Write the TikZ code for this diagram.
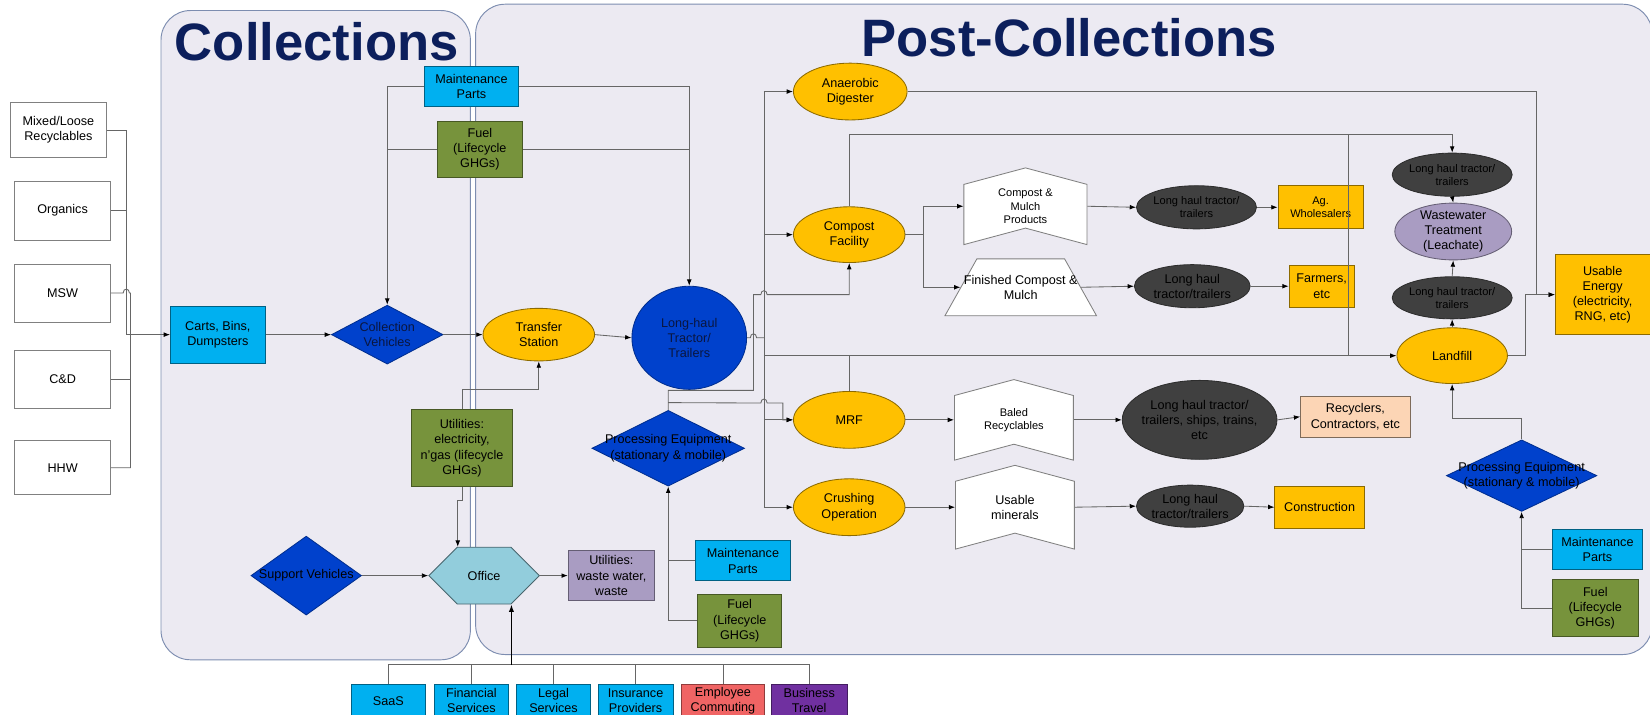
\documentclass[tikz,border=0pt]{standalone}
\usepackage{fontspec}
\setmainfont{Liberation Sans}
\usetikzlibrary{arrows.meta,shapes.geometric,shapes.symbols}

\definecolor{panelfill}{HTML}{ECEAF2}
\definecolor{panelline}{HTML}{7D8DB0}
\definecolor{titleblue}{HTML}{0C1F5C}
\definecolor{cyanfill}{HTML}{00B0F0}
\definecolor{greenfill}{HTML}{77933C}
\definecolor{goldfill}{HTML}{FFC000}
\definecolor{bluefill}{HTML}{0041CC}
\definecolor{navytxt}{HTML}{0A1640}
\definecolor{darkfill}{HTML}{404040}
\definecolor{officefill}{HTML}{92CDDC}
\definecolor{lilacfill}{HTML}{A99CC2}
\definecolor{peachfill}{HTML}{FCD5B5}
\definecolor{redfill}{HTML}{F06464}
\definecolor{purplefill}{HTML}{7030A0}

\newcommand{\normtxt}{\fontsize{12}{14.5}\selectfont}
\newcommand{\smalltxt}{\fontsize{10.5}{12.5}\selectfont}
\newcommand{\titletxt}{\fontsize{50}{56}\selectfont\bfseries}
% small jump of a line over a crossing one
\newcommand{\linehop}[2]{-- ({#1-3},#2) .. controls ({#1-3},{#2-5}) and ({#1+3},{#2-5}) .. ({#1+3},#2)}

\tikzset{
  base/.style={draw=black!55, line width=0.8pt, align=center, font=\normtxt, text=black, inner sep=1pt},
  sz/.style 2 args={minimum width=#1pt, minimum height=#2pt},
  srcbox/.style={base, rectangle, fill=white, draw=black!50},
  cyanbox/.style={base, rectangle, fill=cyanfill, draw=cyanfill!55!black},
  greenbox/.style={base, rectangle, fill=greenfill, draw=greenfill!60!black},
  goldbox/.style={base, rectangle, fill=goldfill, draw=goldfill!55!black},
  goldoval/.style={base, ellipse, fill=goldfill, draw=goldfill!55!black},
  darkoval/.style={base, ellipse, fill=darkfill, draw=darkfill!70!black},
  bluediamond/.style={base, diamond, fill=bluefill, draw=bluefill!70!black},
  tagbox/.style={base, signal, signal to=north, signal from=south, signal pointer angle=150, fill=white, draw=black!50},
  lbl/.style={align=center, font=\normtxt, text=black, inner sep=0pt},
  inlbl/.style={label={[lbl]center:#1}},
  inlbls/.style={label={[lbl,font=\smalltxt]center:#1}},
  inlblb/.style={label={[lbl,text=navytxt]center:#1}},
  conn/.style={draw=black!60, line width=0.8pt},
  conarr/.style={conn, -{Latex[length=6pt,width=4.5pt,color=black]}},
  panel/.style={fill=panelfill, draw=panelline, line width=0.9pt, rounded corners=28pt},
  paneltitle/.style={font=\titletxt, text=titleblue, inner sep=0pt}
}

\begin{document}
\begin{tikzpicture}[x=1pt,y=-1pt]
\useasboundingbox (0,0) rectangle (1568,679);

% the two stages
\filldraw[panel] (153,10) rectangle (447,627);
\filldraw[panel] (452,4) rectangle (1570,622);
\node[paneltitle] (colltitle) at (301,40) {Collections};
\node[paneltitle] (posttitle) at (1016,36) {Post-Collections};

% waste streams
\node[srcbox, sz={91}{53}] (mixed) at (55.5,123.5) {Mixed/Loose\\Recyclables};
\node[srcbox, sz={91}{56}] (organics) at (59.5,200) {Organics};
\node[srcbox, sz={91}{55}] (msw) at (59.5,278.5) {MSW};
\node[srcbox, sz={91}{55}] (cnd) at (59.5,360.5) {C\&D};
\node[srcbox, sz={91}{51}] (hhw) at (59.5,444.5) {HHW};

% collections
\node[cyanbox, sz={90}{54}] (carts) at (207,318) {Carts, Bins,\\Dumpsters};
\node[bluediamond, sz={106}{56}, inlblb={Collection\\Vehicles}] (colveh) at (368,318) {};
\node[goldoval, sz={106}{50}] (transfer) at (512,318) {Transfer\\Station};
\node[base, ellipse, fill=bluefill, draw=bluefill!70!black, sz={109}{98}, inlblb={Long-haul\\Tractor/\\Trailers}] (longhaul) at (655,321) {};
\node[cyanbox, sz={90}{38}] (maint1) at (448,82) {Maintenance\\Parts};
\node[greenbox, sz={81}{53}] (fuel1) at (456,142) {Fuel\\(Lifecycle\\GHGs)};
\node[greenbox, sz={96}{73}] (util1) at (439,426) {Utilities:\\electricity,\\n'gas (lifecycle\\GHGs)};
\node[bluediamond, sz={105}{75}, inlbl={Support Vehicles}] (supveh) at (291,547) {};
\node[base, signal, signal to=west and east, signal pointer angle=90, fill=officefill, draw=officefill!50!black, sz={105}{54}] (office) at (460,547) {Office};
\node[base, rectangle, fill=lilacfill, draw=lilacfill!60!black, sz={82}{48}] (util2) at (581,547) {Utilities:\\waste water,\\waste};

% services
\node[cyanbox, sz={70}{32}] (saas) at (369,666) {SaaS};
\node[cyanbox, sz={70}{32}] (fin) at (448,666) {Financial\\Services};
\node[cyanbox, sz={71}{32}] (legal) at (526,666) {Legal\\Services};
\node[cyanbox, sz={71}{32}] (ins) at (604,666) {Insurance\\Providers};
\node[base, rectangle, fill=redfill, draw=redfill!60!black, sz={79}{32}] (emp) at (687,666) {Employee\\Commuting};
\node[base, rectangle, fill=purplefill, draw=purplefill!60!black, sz={72}{32}] (bustrav) at (769,666) {Business\\Travel};

% post-collections
\node[bluediamond, sz={145}{72}, inlbl={Processing Equipment\\(stationary \& mobile)}] (pe1) at (635,426) {};
\node[cyanbox, sz={90}{38}] (maint2) at (706,533) {Maintenance\\Parts};
\node[greenbox, sz={80}{50}] (fuel2) at (703,590) {Fuel\\(Lifecycle\\GHGs)};

\node[goldoval, sz={108}{54}] (ad) at (808,87) {Anaerobic\\Digester};
\node[goldoval, sz={106}{53}] (compost) at (807,223) {Compost\\Facility};
\node[goldoval, sz={106}{54}] (mrf) at (807,399) {MRF};
\node[goldoval, sz={106}{54}] (crush) at (807,482) {Crushing\\Operation};

\node[tagbox, font=\smalltxt, sz={117}{56}] (cmprod) at (974.5,196) {Compost \&\\Mulch\\Products};
\node[darkoval, sz={114}{41}, inlbls={Long haul tractor/\\trailers}] (lh1) at (1137,197) {};
\node[goldbox, font=\smalltxt, sz={81}{41}] (agw) at (1255,197) {Ag.\\Wholesalers};

\node[base, trapezium, trapezium left angle=70, trapezium right angle=70, trapezium stretches=true, fill=white, draw=black!50, sz={144}{54}, inlbl={Finished Compost \&\\Mulch}] (fincomp) at (970,273) {};
\node[darkoval, sz={110}{41}, inlbl={Long haul\\tractor/trailers}] (lh2) at (1133,272) {};
\node[goldbox, sz={62}{40}] (farm) at (1256,272) {Farmers,\\etc};

\node[tagbox, font=\smalltxt, sz={113}{62}] (baled) at (963.5,399) {Baled\\Recyclables};
\node[darkoval, sz={147}{75}, inlbl={Long haul tractor/\\trailers, ships, trains,\\etc}] (lh3) at (1140,399) {};
\node[base, rectangle, fill=peachfill, draw=peachfill!50!black, sz={104}{39}] (recyc) at (1288,396) {Recyclers,\\Contractors, etc};

\node[tagbox, sz={113}{62}] (usemin) at (964.5,482) {Usable\\minerals};
\node[darkoval, sz={102}{40}, inlbl={Long haul\\tractor/trailers}] (lh4) at (1131,481) {};
\node[goldbox, sz={85}{40}] (constr) at (1254,482) {Construction};

\node[darkoval, sz={114}{41}, inlbls={Long haul tractor/\\trailers}] (lhtop) at (1380,166) {};
\node[base, ellipse, fill=lilacfill, draw=lilacfill!60!black, sz={111}{54}, inlbl={Wastewater\\Treatment\\(Leachate)}] (wwt) at (1381,220) {};
\node[darkoval, sz={114}{40}, inlbls={Long haul tractor/\\trailers}] (lhmid) at (1380,283) {};
\node[goldoval, sz={105}{53}] (landfill) at (1380,338) {Landfill};
\node[goldbox, sz={90}{76}] (energy) at (1523,280) {Usable\\Energy\\(electricity,\\RNG, etc)};

\node[bluediamond, sz={143}{68}, inlbl={Processing Equipment\\(stationary \& mobile)}] (pe2) at (1446,452) {};
\node[cyanbox, sz={85}{38}] (maint3) at (1518,522) {Maintenance\\Parts};
\node[greenbox, sz={81}{54}] (fuel3) at (1516,578) {Fuel\\(Lifecycle\\GHGs)};

\coordinate (srcjoin) at (120,318);
\coordinate (srcjoinb) at (124,318);
\coordinate (bustop) at (726,87);
\coordinate (busbot) at (726,482);
\coordinate (toprail) at (1281,128);
\coordinate (svcbus) at (486,632);

% streams into bins
\draw[conarr] (mixed.east) -| (srcjoin) -- (carts.west);
\draw[conn] (organics.east) -- (organics.east -| srcjoin);
\draw[conn] (msw.east) \linehop{120}{278.5} -- (msw.east -| srcjoinb) |- (hhw.east);
\draw[conn] (cnd.east) -- (cnd.east -| srcjoinb);

% collection chain
\draw[conarr] (carts.east) -- (colveh.west);
\draw[conarr] (colveh.east) -- (transfer.west);
\draw[conarr] (transfer.east) -- (longhaul.west);
\draw[conarr] (maint1.west) -| (colveh.north);
\draw[conn] (fuel1.west) -- (fuel1.west -| colveh.north);
\draw[conarr] (maint1.east) -| (longhaul.north);
\draw[conn] (fuel1.east) -- (fuel1.east -| longhaul.north);
\draw[conarr] (util1.north) -- ++(0,-19) -| (transfer.south);
\draw[conarr] (util1.south) -- ++(0,13) -| ([xshift=-25pt]office.north);
\draw[conarr] (supveh.east) -- (office.west);
\draw[conarr] (office.east) -- (util2.west);

% services into office
\draw[conn] (saas.north) -- ++(0,-18) -| (bustrav.north);
\foreach \svc in {fin,legal,ins,emp}
  \draw[conn] (\svc.north) -- (\svc.north |- svcbus);
\draw[conn, draw=black, line width=1.3pt, -{Latex[length=7pt,width=5pt]}] (svcbus) -- (svcbus |- office.south);

% distribution after long-haul
\draw[conn] (longhaul.east) \linehop{716}{321} -- (longhaul.east -| bustop);
\draw[conn] (bustop) -- (busbot);
\draw[conarr] (bustop) -- (ad.west);
\draw[conarr] (bustop |- compost.west) -- (compost.west);
\draw[conarr] (bustop |- mrf.west) -- (mrf.west);
\draw[conarr] (busbot) -- (crush.west);
\draw[conarr] (bustop |- landfill.west) -- (landfill.west);
\draw[conn] (mrf.north) -- (mrf.north |- landfill.west);

\draw[conarr] (pe1.north) -- (635,371) -- (716,371) -- (716,280) \linehop{726}{280} -| (compost.south);
\draw[conarr] ([yshift=7pt]pe1.north) \linehop{726}{383} -- (744,383) |- (mrf.west);
\draw[conarr] (fuel2.west) -| (pe1.south);
\draw[conn] (maint2.west) -- (maint2.west -| pe1.south);

% compost products
\draw[conarr] (compost.east) -- ++(17,0) |- (cmprod.west);
\draw[conarr] (compost.east) -- ++(17,0) |- (fincomp.west);
\draw[conarr] (cmprod.east) -- (lh1.west);
\draw[conarr] (lh1.east) -- (agw.west);
\draw[conarr] (fincomp.east) -- (lh2.west);
\draw[conarr] (lh2.east) -- (farm.west);
\draw[conarr] (compost.north) |- (toprail) -| (lhtop.north);
\draw[conn] (toprail) -- (toprail |- landfill.west);

% recyclables and minerals
\draw[conarr] (mrf.east) -- (baled.west);
\draw[conarr] (baled.east) -- (lh3.west);
\draw[conarr] (lh3.east) -- (recyc.west);
\draw[conarr] (crush.east) -- (usemin.west);
\draw[conarr] (usemin.east) -- (lh4.west);
\draw[conarr] (lh4.east) -- (constr.west);

% landfill and energy
\draw[conarr] (lhtop.south) -- (wwt.north);
\draw[conarr] (lhmid.north) -- (wwt.south);
\draw[conarr] (landfill.north) -- (lhmid.south);
\draw[conarr] (ad.east) -| (1460,280) -- (energy.west);
\draw[conarr] (landfill.east) -| (1450,280) -- (energy.west);
\draw[conarr] (pe2.north) -- ++(0,-20) -| (landfill.south);
\draw[conarr] (fuel3.west) -| (pe2.south);
\draw[conn] (maint3.west) -- (maint3.west -| pe2.south);
\end{tikzpicture}
\end{document}
